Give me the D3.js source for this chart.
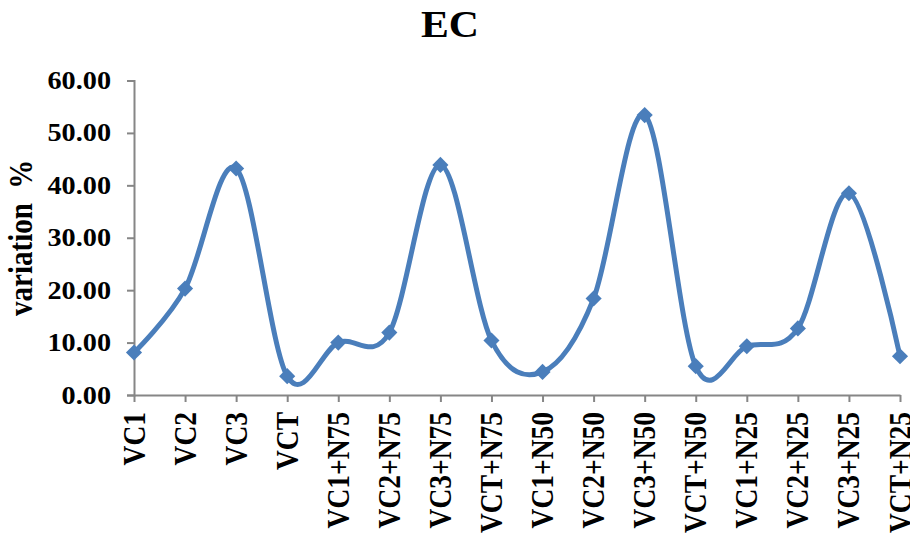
<!DOCTYPE html>
<html>
<head>
<meta charset="utf-8">
<script src="https://cdn.jsdelivr.net/npm/d3@7"></script>
<style>
  html, body { margin: 0; padding: 0; background: #fff; }
  svg { display: block; }
  text { font-family: "Liberation Serif", "Times New Roman", serif; font-weight: bold; fill: #000; }
</style>
</head>
<body>
<svg id="chart" width="910" height="536"></svg>
<script>
// EC variation (%) per treatment
const categories = ["VC1", "VC2", "VC3", "VCT",
  "VC1+N75", "VC2+N75", "VC3+N75", "VCT+N75",
  "VC1+N50", "VC2+N50", "VC3+N50", "VCT+N50",
  "VC1+N25", "VC2+N25", "VC3+N25", "VCT+N25"];
const variation = [8.1, 20.3, 43.2, 3.6,
  10.0, 11.9, 43.9, 10.4,
  4.4, 18.4, 53.4, 5.5,
  9.3, 12.7, 38.5, 7.4];
const yTicks = [0, 10, 20, 30, 40, 50, 60];
const chartTitle = "EC";
const yTitle = "variation  %";

const svg = d3.select("#chart");
const plotLeft = 134, plotRight = 900, plotTop = 80.5, plotBottom = 395;
const stretch = 1.13; // text is drawn slightly wide

const x = d3.scalePoint().domain(categories).range([plotLeft, plotRight]);
const y = d3.scaleLinear().domain([0, 60]).range([plotBottom, plotTop]);

const axisColor = "#868686";
const lineColor = "#4a7ebb";

// Title
svg.append("text")
  .attr("transform", `translate(450,37) scale(${stretch},1)`)
  .attr("text-anchor", "middle")
  .style("font-size", "37px")
  .text(chartTitle);

// Y axis
const yAxis = svg.append("g")
  .attr("transform", `translate(${plotLeft},0)`)
  .call(d3.axisLeft(y).tickValues(yTicks).tickSize(7).tickPadding(0).tickFormat(d3.format(".2f")));
yAxis.select(".domain").attr("stroke", axisColor).attr("stroke-width", 2);
yAxis.selectAll(".tick line").attr("stroke", axisColor).attr("stroke-width", 2);
yAxis.selectAll(".tick text")
  .attr("x", null).attr("dy", null)
  .attr("transform", `translate(-23,8) scale(${stretch},1)`)
  .attr("text-anchor", "end")
  .style("font-size", "25px")
  .style("font-family", "'Liberation Serif', 'Times New Roman', serif")
  .style("font-weight", "bold")
  .attr("fill", "#000");

// X axis
const xAxis = svg.append("g")
  .attr("transform", `translate(0,${plotBottom})`)
  .call(d3.axisBottom(x).tickSize(7).tickSizeOuter(0));
xAxis.select(".domain").attr("stroke", axisColor).attr("stroke-width", 2);
xAxis.selectAll(".tick line").attr("stroke", axisColor).attr("stroke-width", 2);
xAxis.selectAll(".tick text")
  .attr("x", null).attr("y", null).attr("dy", null)
  .attr("transform", `translate(10,17) scale(${stretch},1) rotate(-90)`)
  .attr("text-anchor", "end")
  .style("font-size", "27.5px")
  .style("font-family", "'Liberation Serif', 'Times New Roman', serif")
  .style("font-weight", "bold")
  .attr("fill", "#000");

// Y axis title
svg.append("text")
  .attr("transform", `translate(32,${(plotTop + plotBottom) / 2}) scale(${stretch},1) rotate(-90)`)
  .attr("text-anchor", "middle")
  .style("font-size", "29px")
  .style("white-space", "pre")
  .text(yTitle);

// Smoothed line
const line = d3.line()
  .x((d, i) => x(categories[i]))
  .y(d => y(d))
  .curve(d3.curveCatmullRom.alpha(0));

svg.append("path")
  .datum(variation)
  .attr("d", line)
  .attr("fill", "none")
  .attr("stroke", lineColor)
  .attr("stroke-width", 5)
  .attr("stroke-linejoin", "round");

// Diamond markers
const diamond = d3.symbol().type(d3.symbolSquare).size(130);
svg.append("g").selectAll("path")
  .data(variation)
  .join("path")
  .attr("d", diamond)
  .attr("transform", (d, i) => `translate(${x(categories[i])},${y(d)}) rotate(45)`)
  .attr("fill", lineColor);
</script>
</body>
</html>
